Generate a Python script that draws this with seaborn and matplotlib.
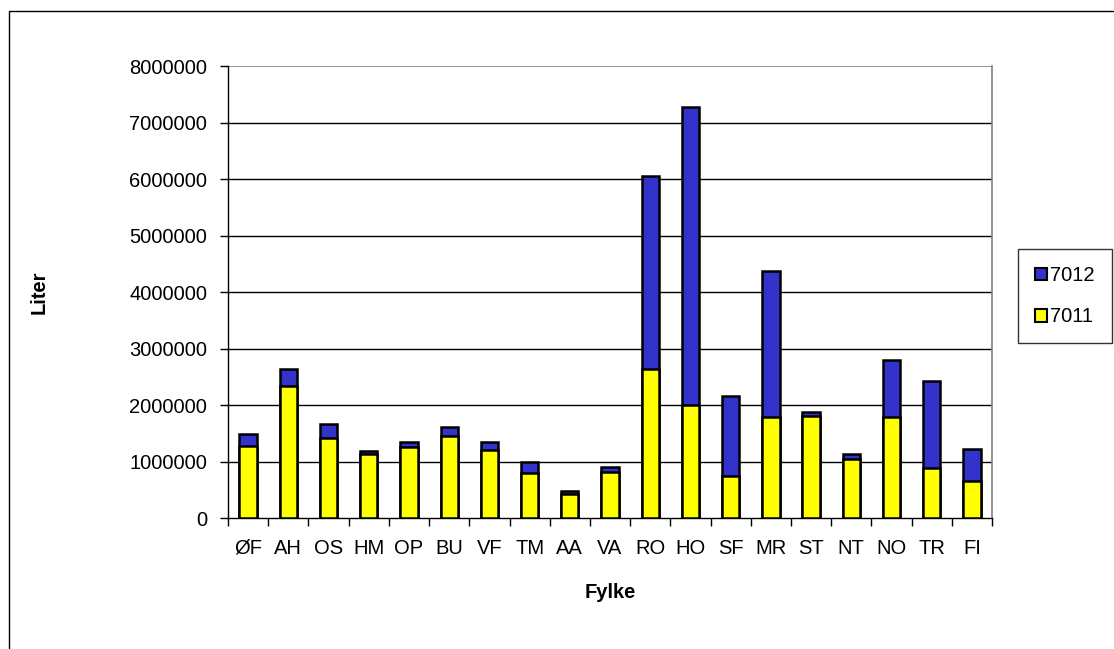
import matplotlib
matplotlib.use("Agg")
import matplotlib.pyplot as plt
from matplotlib.patches import Patch, Rectangle
import seaborn as sns
import pandas as pd

# County codes along the x axis
fylker = ["ØF", "AH", "OS", "HM", "OP", "BU", "VF", "TM", "AA", "VA",
          "RO", "HO", "SF", "MR", "ST", "NT", "NO", "TR", "FI"]

# Litres per county, product 7011 (bottom) and 7012 (stacked on top)
liter_7011 = [1280000, 2340000, 1420000, 1140000, 1260000, 1460000, 1200000,
              790000, 420000, 820000, 2630000, 2000000, 750000, 1780000,
              1800000, 1040000, 1780000, 880000, 660000]
liter_7012 = [200000, 300000, 250000, 40000, 90000, 150000, 150000,
              200000, 50000, 90000, 3420000, 5270000, 1410000, 2600000,
              70000, 90000, 1010000, 1550000, 570000]

y_ticks = [0, 1000000, 2000000, 3000000, 4000000, 5000000, 6000000, 7000000, 8000000]

df = pd.DataFrame({"Fylke": fylker, "7011": liter_7011, "7012": liter_7012})
df["total"] = df["7011"] + df["7012"]

sns.set_theme(style="white")
plt.rcParams["font.family"] = ["Liberation Sans", "DejaVu Sans"]
plt.rcParams["text.color"] = "black"
plt.rcParams["axes.labelcolor"] = "black"
plt.rcParams["xtick.color"] = "black"
plt.rcParams["ytick.color"] = "black"

BLUE = "#3333CC"
YELLOW = "#FFFF00"
FS = 14.5

fig = plt.figure(figsize=(11.14, 6.49), dpi=100)
ax = fig.add_axes([0.2047, 0.2018, 0.6858, 0.6965])

# Stacked bars: full height in blue, then the 7011 part in yellow over it
sns.barplot(data=df, x="Fylke", y="total", color=BLUE, width=0.43,
            edgecolor="black", linewidth=1.8, saturation=1, ax=ax, zorder=3)
sns.barplot(data=df, x="Fylke", y="7011", color=YELLOW, width=0.43,
            edgecolor="black", linewidth=1.8, saturation=1, ax=ax, zorder=4)

ax.set_ylim(0, 8000000)
ax.set_xlim(-0.5, len(fylker) - 0.5)
ax.set_yticks(y_ticks)
ax.set_yticklabels([str(v) for v in y_ticks], fontsize=FS)
ax.set_xticks(range(len(fylker)))
ax.set_xticklabels(fylker, fontsize=FS)

# Gridlines
for v in y_ticks[1:-1]:
    ax.axhline(v, color="black", linewidth=1.0, zorder=1)
ax.axhline(8000000, color="#808080", linewidth=1.2, zorder=1)

# Frame
for side in ["left", "bottom"]:
    ax.spines[side].set_color("black")
    ax.spines[side].set_linewidth(1.0)
ax.spines["right"].set_color("#808080")
ax.spines["right"].set_linewidth(1.2)
ax.spines["top"].set_visible(False)

# Tick marks: y on the left, x between categories
ax.tick_params(axis="y", which="major", direction="out", length=6, width=1,
               color="black", left=True, pad=9)
ax.tick_params(axis="x", which="major", length=0, pad=15)
ax.set_xticks([i + 0.5 for i in range(-1, len(fylker))], minor=True)
ax.tick_params(axis="x", which="minor", direction="out", length=6, width=1,
               color="black", bottom=True)

ax.set_xlabel("Fylke", fontsize=FS, fontweight="bold", labelpad=18)
ax.set_ylabel("Liter", fontsize=FS, fontweight="bold", labelpad=58)

# Legend
handles = [Patch(facecolor=BLUE, edgecolor="black", linewidth=1.5, label="7012"),
           Patch(facecolor=YELLOW, edgecolor="black", linewidth=1.5, label="7011")]
leg = fig.legend(handles=handles, loc="upper left",
                 bbox_to_anchor=(1018 / 1114, 1 - 249 / 649),
                 fontsize=FS, frameon=True, fancybox=False,
                 handlelength=0.6, handleheight=0.6, handletextpad=0.15,
                 labelspacing=1.1, borderpad=0.85, borderaxespad=0)
leg.get_frame().set_edgecolor("black")
leg.get_frame().set_linewidth(1.0)

# Outer chart border
fig.patches.append(Rectangle((8.5 / 1114, -0.1), 1.2, 1.1 - 11 / 649,
                             transform=fig.transFigure, fill=False,
                             edgecolor="black", linewidth=1.0))

fig.savefig("out.png", dpi=100, facecolor="white")
